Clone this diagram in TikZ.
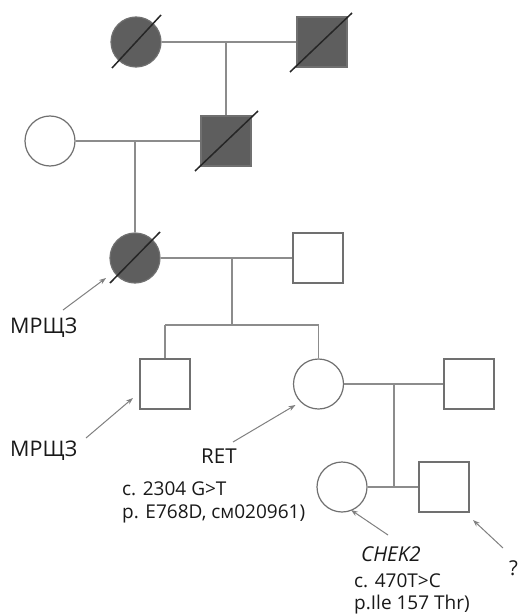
\documentclass[tikz,border=0pt]{standalone}
\usepackage{fontspec}
\setmainfont{Open Sans}
\usetikzlibrary{arrows.meta}
\definecolor{affected}{HTML}{5E5E5E}
\definecolor{outline}{HTML}{707070}
\definecolor{linkgray}{HTML}{8C8C8C}
\definecolor{pointer}{HTML}{808080}
\tikzset{
  female/.style={circle,draw=outline,line width=1.2pt,minimum size=50pt,inner sep=0pt,fill=white},
  male/.style={rectangle,draw=outline,line width=1.2pt,minimum size=50pt,inner sep=0pt,fill=white},
  dead/.style={fill=affected},
  link/.style={draw=linkgray,line width=1.5pt},
  slash/.style={draw=black!85,line width=1.5pt},
  pointerarrow/.style={draw=pointer,line width=1pt,-{Stealth[length=7pt,width=5pt]}},
  biglabel/.style={font=\fontsize{21.5}{24}\selectfont,anchor=base west,inner sep=0pt,text=black!90},
  genelabel/.style={font=\fontsize{20.5}{24}\selectfont,anchor=base west,inner sep=0pt,text=black!90},
  varlabel/.style={font=\fontsize{19}{23}\selectfont,anchor=base west,inner sep=0pt,text=black!90,align=left},
}
\begin{document}
\begin{tikzpicture}[x=1pt,y=-1pt]
\useasboundingbox[fill=white] (0,0) rectangle (517,615);

% generation I
\node[female,dead] (gIf) at (136,42) {};
\node[male,dead]   (gIm) at (322,42) {};
% generation II
\node[female]      (gIIf) at (50,141) {};
\node[male,dead]   (gIIm) at (226,141) {};
% generation III
\node[female,dead] (gIIIf) at (135,258) {};
\node[male]        (gIIIm) at (318,258) {};
% generation IV
\node[male]        (gIVa) at (165,384) {};
\node[female]      (gIVb) at (318.5,384) {};
\node[male]        (gIVm) at (469,384) {};
% generation V
\node[female]      (gVa) at (342,487) {};
\node[male]        (gVb) at (444,487) {};

% junction points
\coordinate (m1) at (226,42);
\coordinate (m2) at (135,141);
\coordinate (m3) at (232,258);
\coordinate (s3) at (232,325);
\coordinate (s3l) at (165,325);
\coordinate (s3r) at (318.5,325);
\coordinate (m4) at (394,384);
\coordinate (m5) at (394,486);

% family lines
\draw[link] (gIf.east) -- (gIm.west);
\draw[link] (m1) -- (gIIm.north);
\draw[link] (gIIf.east) -- (gIIm.west);
\draw[link] (m2) -- (gIIIf.north);
\draw[link] (gIIIf.east) -- (gIIIm.west);
\draw[link] (m3) -- (s3);
\draw[link] (s3l) -- (s3r);
\draw[link] (s3l) -- (gIVa.north);
\draw[link] (s3r) -- (gIVb.north);
\draw[link] (gIVb.east) -- (gIVm.west);
\draw[link] (gVa.east) -- (gVb.west);
\draw[link] (m4) -- (m5);

% deceased marks
\draw[slash] ([shift={(-24,26)}]gIf.center) -- ([shift={(25,-27)}]gIf.center);
\draw[slash] ([shift={(-32,30)}]gIm.center) -- ([shift={(30,-29)}]gIm.center);
\draw[slash] ([shift={(-31,30)}]gIIm.center) -- ([shift={(32,-30)}]gIIm.center);
\draw[slash] ([shift={(-25,25)}]gIIIf.center) -- ([shift={(25,-26)}]gIIIf.center);

% labels
\node[biglabel] (l1) at (10,333) {МРЩЗ};
\node[biglabel] (l2) at (10,456) {МРЩЗ};
\node[genelabel] (l3) at (201,463) {RET};
\node[varlabel] (l3a) at (122,495) {c. 2304 G>T};
\node[varlabel] (l3b) at (122,518) {p. E768D, см020961)};
\node[genelabel] (l4) at (361,561) {\itshape CHEK2};
\node[varlabel] (l4a) at (354,587) {c. 470T>C};
\node[varlabel] (l4b) at (354,609) {p.Ile 157 Thr)};
\node[genelabel] (l5) at (509,575) {?};

% pointer arrows
\coordinate (p1) at (63,310);
\coordinate (p2) at (86,438);
\coordinate (p3) at (233,442);
\coordinate (p4) at (388,535);
\coordinate (p5) at (503,548);
\draw[pointerarrow] (p1) -- ([shift={(-29,20)}]gIIIf.center);
\draw[pointerarrow] (p2) -- ([shift={(-32,14)}]gIVa.center);
\draw[pointerarrow] (p3) -- ([shift={(-23,21)}]gIVb.center);
\draw[pointerarrow] (p4) -- ([shift={(9,23)}]gVa.center);
\draw[pointerarrow] (p5) -- ([shift={(29,33)}]gVb.center);
\end{tikzpicture}
\end{document}
